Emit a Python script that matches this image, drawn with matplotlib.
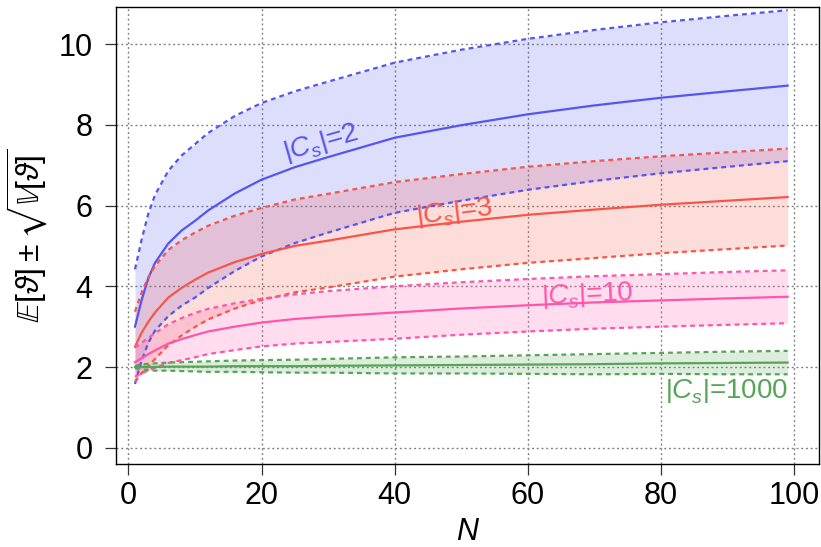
import matplotlib.pyplot as plt
import numpy as np

plt.rcParams['font.family'] = 'Liberation Sans'
plt.rcParams['mathtext.fontset'] = 'custom'
plt.rcParams['mathtext.rm'] = 'Liberation Sans'
plt.rcParams['mathtext.it'] = 'Liberation Sans:italic'
plt.rcParams['mathtext.fallback'] = 'stixsans'

# sample sizes
N = [1, 2, 3, 4, 6, 8, 10, 12, 16, 20, 25, 30, 40, 50, 60, 70, 80, 90, 99]

# |C_s| = 2
mean_2 = [3.00, 3.66, 4.20, 4.58, 5.06, 5.38, 5.62, 5.88, 6.30, 6.64, 6.95, 7.20, 7.68, 7.99, 8.26, 8.48, 8.67, 8.83, 8.97]
sd_2 = [1.42, 1.50, 1.60, 1.68, 1.80, 1.86, 1.90, 1.92, 1.92, 1.90, 1.88, 1.87, 1.86, 1.87, 1.87, 1.87, 1.87, 1.87, 1.87]

# |C_s| = 3
mean_3 = [2.50, 2.85, 3.12, 3.35, 3.72, 3.96, 4.16, 4.34, 4.60, 4.80, 5.00, 5.13, 5.41, 5.60, 5.77, 5.90, 6.02, 6.12, 6.21]
sd_3 = [0.87, 1.00, 1.10, 1.15, 1.18, 1.18, 1.17, 1.16, 1.15, 1.14, 1.15, 1.16, 1.17, 1.18, 1.19, 1.20, 1.20, 1.20, 1.20]

# |C_s| = 10
mean_10 = [2.12, 2.22, 2.32, 2.41, 2.58, 2.69, 2.79, 2.88, 3.00, 3.10, 3.19, 3.25, 3.35, 3.45, 3.53, 3.60, 3.65, 3.70, 3.74]
sd_10 = [0.36, 0.38, 0.40, 0.43, 0.48, 0.52, 0.55, 0.56, 0.58, 0.59, 0.61, 0.63, 0.65, 0.65, 0.65, 0.65, 0.65, 0.655, 0.655]

# |C_s| = 1000
mean_1000 = [2.00, 2.00, 2.00, 2.00, 2.01, 2.01, 2.01, 2.01, 2.02, 2.02, 2.02, 2.03, 2.04, 2.05, 2.06, 2.07, 2.09, 2.10, 2.11]
sd_1000 = [0.03, 0.06, 0.08, 0.09, 0.10, 0.11, 0.12, 0.13, 0.14, 0.15, 0.16, 0.17, 0.20, 0.21, 0.23, 0.25, 0.26, 0.28, 0.29]

series = [
    (mean_2, sd_2, '#5555f0'),
    (mean_3, sd_3, '#f85548'),
    (mean_10, sd_10, '#ff55aa'),
    (mean_1000, sd_1000, '#55a555'),
]

fig = plt.figure(figsize=(8.21, 5.47), dpi=100)
ax = fig.add_axes([0.1409, 0.1512, 0.857, 0.8354])

ax.set_xlim(-1.9, 103.75)
ax.set_ylim(-0.41, 10.91)
ax.set_xticks(range(0, 101, 20))
ax.set_yticks(range(0, 11, 2))
ax.grid(True, color='#808080', lw=1.0, ls=(0, (1.4, 2.0)))
ax.set_axisbelow(True)

x = np.array(N)
for m, s, c in series:
    m = np.array(m)
    s = np.array(s)
    ax.fill_between(x, m - s, m + s, color=c, alpha=0.2, lw=0)
    ax.plot(x, m, color=c, lw=1.6)
    ax.plot(x, m + s, color=c, lw=1.6, ls=(0, (2.2, 1.8)))
    ax.plot(x, m - s, color=c, lw=1.6, ls=(0, (2.2, 1.8)))

lab = dict(fontsize=20, ha='center', va='center', rotation_mode='anchor')
ax.text(28.9, 7.55, r'$\left|C_s\right|$=2', color=series[0][2], rotation=16, **lab)
ax.text(49.0, 5.82, r'$\left|C_s\right|$=3', color=series[1][2], rotation=7, **lab)
ax.text(68.9, 3.79, r'$\left|C_s\right|$=10', color=series[2][2], rotation=2.5, **lab)
ax.text(99.0, 1.41, r'$\left|C_s\right|$=1000', color=series[3][2], fontsize=20,
        ha='right', va='center')

for sp in ax.spines.values():
    sp.set_linewidth(1.0)
ax.tick_params(axis='both', direction='out', length=7.7, width=0.9, color='#333333',
               labelsize=22)
ax.tick_params(axis='x', pad=4)
ax.tick_params(axis='y', pad=9)

ax.set_xlabel('N', fontsize=22, fontstyle='italic', labelpad=5)
ax.set_ylabel(r'$\mathbb{E}[\vartheta] \pm \sqrt{\mathbb{V}[\vartheta]}$', fontsize=23, labelpad=6)

fig.savefig('out.png', dpi=100)
